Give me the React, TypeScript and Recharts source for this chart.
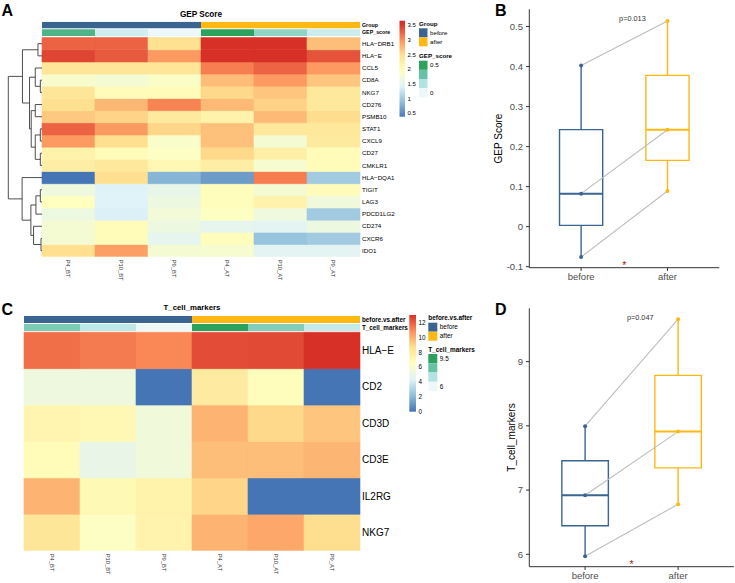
import React from "react";
import {
  BarChart,
  Bar,
  Cell,
  XAxis,
  YAxis,
  ScatterChart,
  Scatter,
  ComposedChart,
  ReferenceLine,
  ReferenceArea,
} from "recharts";

const FONT = "'Liberation Sans', Arial, Helvetica, sans-serif";

// columns of both heatmaps
const samples = ["P4_BT", "P10_BT", "P9_BT", "P4_AT", "P10_AT", "P9_AT"];
const sampleGroup = ["before", "before", "before", "after", "after", "after"];
const groups = ["before", "after"];

// panel A rows (dendrogram order) and expression values
const gepGenes = [
  "HLA−DRB1", "HLA−E", "CCL5", "CD8A", "NKG7", "CD276", "PSMB10", "STAT1", "CXCL9",
  "CD27", "CMKLR1", "HLA−DQA1", "TIGIT", "LAG3", "PDCD1LG2", "CD274", "CXCR6", "IDO1",
];
const gepExpr = [
  [3.26, 3.26, 2.47, 3.55, 3.55, 2.7],
  [3.43, 3.31, 2.93, 3.55, 3.55, 3.35],
  [2.4, 2.4, 2.4, 3.1, 3.25, 2.93],
  [1.83, 1.76, 1.88, 2.71, 2.93, 2.66],
  [2.38, 2.02, 2.02, 2.53, 2.66, 2.35],
  [2.48, 2.75, 3.07, 2.73, 2.57, 2.35],
  [2.64, 2.56, 2.31, 2.16, 2.73, 2.5],
  [3.26, 2.93, 2.55, 2.68, 2.35, 2.35],
  [2.93, 2.48, 1.85, 2.68, 1.76, 2.31],
  [2.16, 2.02, 1.9, 2.53, 2.23, 2.02],
  [2.24, 2.35, 2.09, 2.26, 1.8, 2.02],
  [0.35, 2.48, 0.81, 0.63, 3.11, 1.0],
  [1.67, 1.42, 1.55, 1.99, 1.76, 2.0],
  [1.95, 1.42, 1.64, 1.99, 2.17, 1.69],
  [1.64, 1.39, 1.73, 1.92, 1.67, 1.0],
  [1.76, 2.02, 1.64, 1.52, 1.47, 1.64],
  [1.76, 2.02, 1.52, 1.99, 0.93, 1.0],
  [2.48, 2.9, 1.76, 1.8, 1.47, 1.47],
];

// row dendrogram, hclust style: negative = leaf (1-based row), positive = earlier merge
const gepMerge: [number, number, number][] = [
  [-1, -2, 1.2],
  [-4, -5, 0.5],
  [-3, 2, 2.0],
  [-6, -7, 2.0],
  [-8, -9, 0.5],
  [-10, -11, 0.5],
  [5, 6, 2.0],
  [4, 7, 3.2],
  [3, 8, 3.7],
  [1, 9, 5.8],
  [-13, -14, 0.5],
  [11, -15, 1.8],
  [-17, -18, 0.3],
  [-16, 13, 2.5],
  [12, 14, 3.3],
  [-12, 15, 5.9],
  [10, 16, 10],
];

// panel C rows and values
const tGenes = ["HLA−E", "CD2", "CD3D", "CD3E", "IL2RG", "NKG7"];
const tExpr = [
  [11.64, 11.36, 11.03, 12.42, 12.49, 13.1],
  [5.35, 5.35, 0, 7.96, 6.69, 0],
  [7.25, 7.05, 5.5, 9.91, 8.95, 9.44],
  [6.83, 5.0, 5.5, 9.62, 9.62, 9.86],
  [9.91, 6.97, 7.47, 9.02, 0, 0],
  [8.3, 6.4, 7.4, 9.93, 10.23, 8.75],
];

// paired scores, patients P4, P10, P9
const gepBefore = [0.4025, 0.0825, -0.0758];
const gepAfter = [0.514, 0.242, 0.089];
const tcmBefore = [7.995, 6.92, 5.97];
const tcmAfter = [9.66, 7.91, 6.78];

const gepTicks = [-0.1, 0, 0.1, 0.2, 0.3, 0.4, 0.5];
const tcmTicks = [6, 7, 8, 9];
const heatTicksA = [0.5, 1, 1.5, 2, 2.5, 3, 3.5];
const heatTicksC = [0, 2, 4, 6, 8, 10, 12];

const GROUP_COL: Record<string, string> = { before: "#3B6591", after: "#FDB813" };
const RDYLBU = ["#4575B4", "#91BFDB", "#E0F3F8", "#FFFFBF", "#FEE090", "#FC8D59", "#D73027"];
const BUGN = ["#EDF8FB", "#B2E2E2", "#66C2A4", "#2CA25F"];

const hexRgb = (h: string) => [1, 3, 5].map((i) => parseInt(h.slice(i, i + 2), 16));
function ramp(colors: string[], lo: number, hi: number) {
  const rgb = colors.map(hexRgb);
  return (v: number) => {
    const t = Math.max(0, Math.min(1, (v - lo) / (hi - lo))) * (rgb.length - 1);
    const i = Math.min(Math.floor(t), rgb.length - 2);
    const f = t - i;
    const c = rgb[i].map((a, k) => Math.round(a + (rgb[i + 1][k] - a) * f));
    return `rgb(${c.join(",")})`;
  };
}
const heatColA = ramp(RDYLBU, 0.35, 3.55);
const heatColC = ramp(RDYLBU, 0, 13.1);
const gepCol = ramp(BUGN, 0, 0.5);
const tcmCol = ramp(BUGN, 6, 9.5);

const quantile = (arr: number[], p: number) => {
  const s = [...arr].sort((a, b) => a - b);
  const h = (s.length - 1) * p;
  const lo = Math.floor(h);
  const hi = Math.min(lo + 1, s.length - 1);
  return s[lo] + (h - lo) * (s[hi] - s[lo]);
};

function Heatmap(props: any) {
  const { genes, expr, color, annos, annoH, gapIn, gapOut, width, height, margin, xAxisH, yAxisW, rowFont, annoFont } = props;
  const n = genes.length;
  const rows = [
    ...genes.map((g: string, i: number) => ({ key: `r${i}`, fills: expr[i].map(color), heat: true })).reverse(),
    { key: "gapOut", fills: null },
    { key: "a1", fills: annos[1].fills },
    { key: "gapIn", fills: null },
    { key: "a0", fills: annos[0].fills },
  ];
  const data = samples.map((s) => {
    const d: any = { sample: s, gapOut, a1: annoH, gapIn, a0: annoH };
    genes.forEach((_: string, i: number) => (d[`r${i}`] = 1));
    return d;
  });
  const total = n + gapOut + 2 * annoH + gapIn;
  const ticks = [
    ...genes.map((g: string, i: number) => ({ v: n - i - 0.5, text: g, bold: false })),
    { v: n + gapOut + annoH / 2, text: annos[1].label, bold: true },
    { v: n + gapOut + annoH + gapIn + annoH / 2, text: annos[0].label, bold: true },
  ];
  const RowTick = (p: any) => {
    const t = ticks.find((k) => Math.abs(k.v - p.payload.value) < 1e-6);
    if (!t) return null;
    return (
      <text x={p.x} y={p.y} dy="0.35em" textAnchor="start" fontSize={t.bold ? annoFont : rowFont} fontWeight={t.bold ? 700 : 400} fill="#000">
        {t.text}
      </text>
    );
  };
  const ColTick = (p: any) => (
    <text x={p.x} y={p.y} transform={`rotate(90 ${p.x} ${p.y})`} dy="0.35em" textAnchor="start" fontSize={5.8} fill="#333">
      {p.payload.value}
    </text>
  );
  return (
    <BarChart width={width} height={height} data={data} margin={margin} barCategoryGap={0} barGap={0}>
      <XAxis dataKey="sample" height={xAxisH} axisLine={false} tickLine={false} tickSize={0} tickMargin={3} interval={0} tick={ColTick} />
      <YAxis
        orientation="right"
        type="number"
        domain={[0, total]}
        allowDataOverflow
        ticks={ticks.map((t) => t.v)}
        interval={0}
        width={yAxisW}
        axisLine={false}
        tickLine={false}
        tickSize={0}
        tickMargin={2}
        tick={RowTick}
      />
      {rows.map((r: any) => (
        <Bar key={r.key} dataKey={r.key} stackId="h" isAnimationActive={false}>
          {samples.map((s, j) =>
            r.fills ? (
              <Cell key={s} fill={r.fills[j]} stroke={r.heat ? r.fills[j] : "none"} strokeWidth={r.heat ? 0.6 : 0} />
            ) : (
              <Cell key={s} fill="none" stroke="none" />
            )
          )}
        </Bar>
      ))}
    </BarChart>
  );
}

function Dendrogram({ merge, nLeaves, total, width, height, margin }: any) {
  const nodes: { y: number; h: number }[] = [];
  const get = (id: number) => (id < 0 ? { y: nLeaves + id + 0.5, h: 0 } : nodes[id - 1]);
  const segs: any[] = [];
  merge.forEach(([a, b, h]: [number, number, number]) => {
    const A = get(a);
    const B = get(b);
    segs.push([{ x: A.h, y: A.y }, { x: h, y: A.y }]);
    segs.push([{ x: B.h, y: B.y }, { x: h, y: B.y }]);
    segs.push([{ x: h, y: A.y }, { x: h, y: B.y }]);
    nodes.push({ y: (A.y + B.y) / 2, h });
  });
  const maxH = Math.max(...merge.map((m: any) => m[2]));
  const leaves = Array.from({ length: nLeaves }, (_, i) => ({ h: 0, y: nLeaves - i - 0.5 }));
  return (
    <ScatterChart width={width} height={height} margin={margin}>
      <XAxis type="number" dataKey="h" domain={[0, maxH]} reversed hide allowDataOverflow />
      <YAxis type="number" dataKey="y" domain={[0, total]} hide allowDataOverflow />
      <Scatter data={leaves} isAnimationActive={false} shape={() => <g />} />
      {segs.map((s, i) => (
        <ReferenceLine key={i} segment={s} stroke="#3a3a3a" strokeWidth={0.9} ifOverflow="visible" />
      ))}
    </ScatterChart>
  );
}

function PairedBox(props: any) {
  const { before, after, ticks, domain, title, pText, pPos, starY, width, height, margin, yAxisW, xAxisH, titleDx } = props;
  const sets = [before, after];
  const colors = groups.map((g) => GROUP_COL[g]);
  const stats = sets.map((arr: number[]) => ({
    min: Math.min(...arr),
    q1: quantile(arr, 0.25),
    med: quantile(arr, 0.5),
    q3: quantile(arr, 0.75),
    max: Math.max(...arr),
  }));
  const pairs = before.map((b: number, i: number) => [
    { x: 1, y: b },
    { x: 2, y: after[i] },
  ]);
  const tickStyle = { fontSize: 9.5, fill: "#4D4D4D" };
  return (
    <ComposedChart width={width} height={height} margin={margin}>
      <XAxis
        type="number"
        dataKey="x"
        domain={[0.4, 2.6]}
        allowDataOverflow
        ticks={[1, 2]}
        interval={0}
        tickFormatter={(v: number) => groups[v - 1]}
        stroke="#333"
        tickSize={3.3}
        tickMargin={2}
        tick={tickStyle}
        height={xAxisH}
      />
      <YAxis
        type="number"
        dataKey="y"
        domain={domain}
        allowDataOverflow
        ticks={ticks}
        interval={0}
        stroke="#333"
        tickSize={3.3}
        tickMargin={3}
        tick={tickStyle}
        width={yAxisW}
        label={{ value: title, angle: -90, position: "center", dx: titleDx, fontSize: 10, fill: "#000" }}
      />
      {pairs.map((d: any, i: number) => (
        <Scatter key={`pair${i}`} data={d} line={{ stroke: "#BDBDBD", strokeWidth: 1.1 }} shape={() => <g />} isAnimationActive={false} />
      ))}
      {stats.map((s: any, i: number) => (
        <ReferenceArea key={`box${i}`} x1={i + 0.75} x2={i + 1.25} y1={s.q1} y2={s.q3} fill="none" fillOpacity={0} stroke={colors[i]} strokeWidth={1.4} ifOverflow="visible" />
      ))}
      {stats.map((s: any, i: number) => (
        <ReferenceLine key={`med${i}`} segment={[{ x: i + 0.75, y: s.med }, { x: i + 1.25, y: s.med }]} stroke={colors[i]} strokeWidth={2} ifOverflow="visible" />
      ))}
      {stats.map((s: any, i: number) => (
        <ReferenceLine key={`up${i}`} segment={[{ x: i + 1, y: s.q3 }, { x: i + 1, y: s.max }]} stroke={colors[i]} strokeWidth={1.4} ifOverflow="visible" />
      ))}
      {stats.map((s: any, i: number) => (
        <ReferenceLine key={`lo${i}`} segment={[{ x: i + 1, y: s.min }, { x: i + 1, y: s.q1 }]} stroke={colors[i]} strokeWidth={1.4} ifOverflow="visible" />
      ))}
      {sets.map((arr: number[], i: number) => (
        <Scatter
          key={`pts${i}`}
          data={arr.map((v) => ({ x: i + 1, y: v }))}
          isAnimationActive={false}
          shape={(pp: any) => <circle cx={pp.cx} cy={pp.cy} r={2} fill={colors[i]} />}
        />
      ))}
      <Scatter
        data={[pPos]}
        isAnimationActive={false}
        shape={(pp: any) => (
          <text x={pp.cx} y={pp.cy} dy="0.35em" textAnchor="start" fontSize={7.3} style={{ fill: "#333" }}>
            {pText}
          </text>
        )}
      />
      <Scatter
        data={[{ x: 1.5, y: starY }]}
        isAnimationActive={false}
        shape={(pp: any) => (
          <text x={pp.cx} y={pp.cy} dy={6} textAnchor="middle" fontSize={10.5} style={{ fill: "#A52020" }}>
            *
          </text>
        )}
      />
    </ComposedChart>
  );
}

function ColorBar({ id, x, y, w, h, lo, hi, color, ticks, fs }: any) {
  const stops = Array.from({ length: 31 }, (_, k) => k / 30);
  return (
    <g>
      <defs>
        <linearGradient id={id} x1="0" y1="1" x2="0" y2="0">
          {stops.map((t) => (
            <stop key={t} offset={t} stopColor={color(lo + t * (hi - lo))} />
          ))}
        </linearGradient>
      </defs>
      <rect x={x} y={y} width={w} height={h} fill={`url(#${id})`} />
      {ticks.map((v: number) => (
        <text key={v} x={x + w + 2.5} y={y + h - ((v - lo) / (hi - lo)) * h} dy="0.35em" fontSize={fs} fill="#000">
          {v}
        </text>
      ))}
    </g>
  );
}

function Swatches({ x, y, title, items, sw, sh, fs }: any) {
  return (
    <g>
      <text x={x} y={y - 2.5} fontSize={fs} fontWeight={700} fill="#000">
        {title}
      </text>
      {items.map((it: any, i: number) => (
        <g key={i}>
          <rect x={x} y={y + i * sh} width={sw} height={sh} fill={it.fill} />
          {it.label ? (
            <text x={x + sw + 2.5} y={y + i * sh + sh / 2} dy="0.35em" fontSize={fs} fill="#000">
              {it.label}
            </text>
          ) : null}
        </g>
      ))}
    </g>
  );
}

export default function App() {
  const gepScore = [...gepBefore, ...gepAfter];
  const tcmScore = [...tcmBefore, ...tcmAfter];
  const groupFills = sampleGroup.map((g) => GROUP_COL[g]);
  const greenSwatches = (col: (v: number) => string, lo: number, hi: number, hiLab: string, loLab: string) =>
    [3, 2, 1, 0].map((k) => ({ fill: col(lo + ((hi - lo) * k) / 3), label: k === 3 ? hiLab : k === 0 ? loLab : "" }));

  return (
    <div style={{ position: "absolute", left: 0, top: 0, width: 735, height: 583, background: "#fff", fontFamily: FONT, overflow: "hidden" }}>
      <div style={{ position: "absolute", left: 0, top: 0 }}>
        <Heatmap
          genes={gepGenes}
          expr={gepExpr}
          color={heatColA}
          annos={[
            { label: "Group", fills: groupFills },
            { label: "GEP_score", fills: gepScore.map(gepCol) },
          ]}
          annoH={0.542}
          gapIn={0.082}
          gapOut={0.14}
          width={420}
          height={290}
          margin={{ top: 21.7, right: 0, bottom: 0, left: 42 }}
          xAxisH={33.3}
          yAxisW={60}
          rowFont={6.2}
          annoFont={5.3}
        />
      </div>
      <div style={{ position: "absolute", left: 0, top: 0 }}>
        <Dendrogram
          merge={gepMerge}
          nLeaves={gepGenes.length}
          total={gepGenes.length + 0.14 + 2 * 0.542 + 0.082}
          width={42}
          height={290}
          margin={{ top: 21.7, right: 0, bottom: 33.3, left: 8.3 }}
        />
      </div>
      <div style={{ position: "absolute", left: 0, top: 300 }}>
        <Heatmap
          genes={tGenes}
          expr={tExpr}
          color={heatColC}
          annos={[
            { label: "before.vs.after", fills: groupFills },
            { label: "T_cell_markers", fills: tcmScore.map(tcmCol) },
          ]}
          annoH={0.19}
          gapIn={0.028}
          gapOut={0.035}
          width={420}
          height={283}
          margin={{ top: 16.1, right: 0, bottom: 0, left: 24 }}
          xAxisH={32.3}
          yAxisW={60}
          rowFont={10}
          annoFont={6.3}
        />
      </div>
      <div style={{ position: "absolute", left: 470, top: 0 }}>
        <PairedBox
          before={gepBefore}
          after={gepAfter}
          ticks={gepTicks}
          domain={[-0.1025, 0.543]}
          title="GEP Score"
          pText="p=0.013"
          pPos={{ x: 1.44, y: 0.519 }}
          starY={-0.09}
          width={265}
          height={290}
          margin={{ top: 9.3, right: 15.7, bottom: 0, left: 0 }}
          yAxisW={59.3}
          xAxisH={22.3}
          titleDx={-1.5}
        />
      </div>
      <div style={{ position: "absolute", left: 470, top: 300 }}>
        <PairedBox
          before={tcmBefore}
          after={tcmAfter}
          ticks={tcmTicks}
          domain={[5.807, 9.83]}
          title="T_cell_markers"
          pText="p=0.047"
          pPos={{ x: 1.45, y: 9.69 }}
          starY={5.88}
          width={265}
          height={283}
          margin={{ top: 8.3, right: 1.1, bottom: 0, left: 0 }}
          yAxisW={59.3}
          xAxisH={16.3}
          titleDx={12}
        />
      </div>
      <svg width={735} height={583} style={{ position: "absolute", left: 0, top: 0, pointerEvents: "none" }}>
        <g fontWeight={700} fill="#000">
          <text x={1.5} y={15.5} fontSize={16}>A</text>
          <text x={495} y={16} fontSize={16}>B</text>
          <text x={1.5} y={315} fontSize={16}>C</text>
          <text x={495} y={314.5} fontSize={16}>D</text>
          <text x={201} y={16.5} fontSize={8.2} textAnchor="middle">GEP Score</text>
          <text x={192} y={309.5} fontSize={7.8} textAnchor="middle">T_cell_markers</text>
        </g>
        <ColorBar id="barA" x={399.5} y={20.7} w={5.5} h={96} lo={0.385} hi={3.65} color={heatColA} ticks={heatTicksA} fs={6} />
        <Swatches x={419} y={28.3} title="Group" sw={8.5} sh={9} fs={6.2} items={groups.map((g) => ({ fill: GROUP_COL[g], label: g }))} />
        <Swatches x={419} y={60.7} title="GEP_score" sw={8.5} sh={9.15} fs={6.2} items={greenSwatches(gepCol, 0, 0.5, "0.5", "0")} />
        <ColorBar id="barC" x={409.3} y={315} w={6.7} h={96.7} lo={0} hi={13.06} color={heatColC} ticks={heatTicksC} fs={6.3} />
        <Swatches x={428.3} y={322.7} title="before.vs.after" sw={9} sh={9} fs={6.4} items={groups.map((g) => ({ fill: GROUP_COL[g], label: g }))} />
        <Swatches x={428.3} y={354} title="T_cell_markers" sw={9} sh={9.25} fs={6.4} items={greenSwatches(tcmCol, 6, 9.5, "9.5", "6")} />
      </svg>
    </div>
  );
}
